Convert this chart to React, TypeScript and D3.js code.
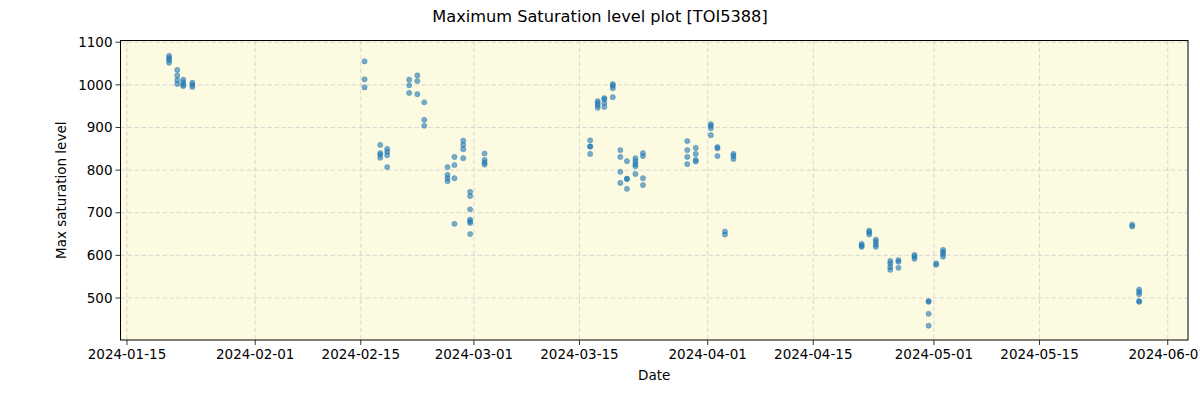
import React from "react";
import * as d3 from "d3";

// Observation nights (UTC) and the saturation levels measured on each night
const nightTimes: string[] = [
  "2024-01-20T14:00Z", "2024-01-21T16:00Z", "2024-01-22T11:00Z", "2024-01-23T16:00Z",
  "2024-02-15T12:00Z", "2024-02-17T14:00Z", "2024-02-18T12:00Z", "2024-02-21T10:00Z",
  "2024-02-22T12:00Z", "2024-02-23T10:00Z", "2024-02-26T12:00Z", "2024-02-27T10:00Z",
  "2024-02-28T14:00Z", "2024-02-29T12:00Z", "2024-03-02T10:00Z", "2024-03-16T10:00Z",
  "2024-03-17T10:00Z", "2024-03-18T07:00Z", "2024-03-19T10:00Z", "2024-03-20T10:00Z",
  "2024-03-21T07:00Z", "2024-03-22T10:00Z", "2024-03-23T10:00Z", "2024-03-29T07:00Z",
  "2024-03-30T10:00Z", "2024-04-01T10:00Z", "2024-04-02T07:00Z", "2024-04-03T07:00Z",
  "2024-04-04T10:00Z", "2024-04-21T10:00Z", "2024-04-22T10:00Z", "2024-04-23T07:00Z",
  "2024-04-25T05:00Z", "2024-04-26T07:00Z", "2024-04-28T10:00Z", "2024-04-30T07:00Z",
  "2024-05-01T07:00Z", "2024-05-02T05:00Z", "2024-05-27T07:00Z", "2024-05-28T05:00Z",
];

const saturationLevels: number[][] = [
  [1068, 1063, 1058, 1052], [1035, 1022, 1011, 1002], [1012, 1006, 1000, 997], [1005, 1000, 995],
  [1055, 1013, 994], [859, 840, 836, 829], [850, 843, 835, 807], [1012, 999, 981],
  [1022, 1009, 978], [959, 918, 904], [807, 789, 781, 774], [831, 812, 781, 674],
  [869, 859, 849, 828], [749, 739, 708, 684, 680, 676, 650], [839, 824, 818, 813], [870, 856, 855, 838],
  [962, 957, 952, 946], [969, 966, 957, 948], [1002, 998, 992, 971], [847, 831, 796, 770],
  [821, 780, 779, 756], [828, 821, 814, 809, 791], [840, 833, 781, 765], [868, 847, 831, 814],
  [852, 838, 824, 820], [908, 904, 898, 882], [854, 851, 833], [656, 649],
  [838, 833, 826], [627, 623, 620], [658, 654, 649], [637, 632, 625, 620],
  [587, 581, 573, 566], [589, 585, 571], [601, 597, 592], [493, 491, 463, 435],
  [581, 578], [613, 608, 603, 597], [672, 668], [520, 514, 509, 493, 491],
];

const xTickLabels: string[] = [
  "2024-01-15", "2024-02-01", "2024-02-15", "2024-03-01", "2024-03-15",
  "2024-04-01", "2024-04-15", "2024-05-01", "2024-05-15", "2024-06-01",
];
const yTickValues: number[] = [500, 600, 700, 800, 900, 1000, 1100];

const W = 1200;
const H = 400;
const left = 120.5;
const right = 1188;
const top = 40.5;
const bottom = 340;
const FONT = "DejaVu Sans, sans-serif";

export default function App() {
  const x = d3
    .scaleUtc()
    .domain([new Date("2024-01-14T03:20Z"), new Date("2024-06-03T16:30Z")])
    .range([left, right]);
  const y = d3.scaleLinear().domain([401.5, 1104]).range([bottom, top]);

  const points: { t: Date; v: number }[] = [];
  nightTimes.forEach((s, i) => {
    const t = new Date(s);
    saturationLevels[i].forEach((v) => points.push({ t, v }));
  });

  const xTicks = xTickLabels.map((s) => ({ s, d: new Date(s + "T00:00Z") }));

  return (
    <svg
      width={W}
      height={H}
      style={{ position: "absolute", left: 0, top: 0, background: "#fff" }}
      fontFamily={FONT}
    >
      <rect x={0} y={0} width={W} height={H} fill="#ffffff" />
      <rect x={left} y={top} width={right - left} height={bottom - top} fill="#fcfae1" />
      {/* grid */}
      {xTicks.map(({ s, d }) => (
        <line
          key={"gx" + s}
          x1={x(d)}
          x2={x(d)}
          y1={top}
          y2={bottom}
          stroke="#cfcfcf"
          strokeWidth={0.8}
          strokeDasharray="4.5,2.5"
        />
      ))}
      {yTickValues.map((v) => (
        <line
          key={"gy" + v}
          x1={left}
          x2={right}
          y1={y(v)}
          y2={y(v)}
          stroke="#cfcfcf"
          strokeWidth={0.8}
          strokeDasharray="4.5,2.5"
        />
      ))}
      {/* points */}
      {points.map((p, i) => (
        <circle
          key={i}
          cx={x(p.t)}
          cy={y(p.v)}
          r={2.6}
          fill="#1f77b4"
          fillOpacity={0.6}
          stroke="#1f77b4"
          strokeOpacity={0.6}
          strokeWidth={0.6}
        />
      ))}
      {/* frame */}
      <rect
        x={left}
        y={top}
        width={right - left}
        height={bottom - top}
        fill="none"
        stroke="#000"
        strokeWidth={1}
      />
      {/* x ticks */}
      {xTicks.map(({ s, d }) => (
        <g key={"tx" + s} transform={`translate(${x(d)},${bottom})`}>
          <line y1={0} y2={5} stroke="#000" strokeWidth={0.8} />
          <text y={19} textAnchor="middle" fontSize={13.5} fill="#000">
            {s}
          </text>
        </g>
      ))}
      {/* y ticks */}
      {yTickValues.map((v) => (
        <g key={"ty" + v} transform={`translate(${left},${y(v)})`}>
          <line x1={0} x2={-5} stroke="#000" strokeWidth={0.8} />
          <text x={-8} dy="0.35em" textAnchor="end" fontSize={13.5} fill="#000">
            {v}
          </text>
        </g>
      ))}
      <text x={(left + right) / 2} y={380} textAnchor="middle" fontSize={13.5} fill="#000">
        Date
      </text>
      <text
        transform={`translate(66,${(top + bottom) / 2}) rotate(-90)`}
        textAnchor="middle"
        fontSize={13.5}
        fill="#000"
      >
        Max saturation level
      </text>
      <text x={600} y={22} textAnchor="middle" fontSize={16.2} fill="#000">
        Maximum Saturation level plot [TOI5388]
      </text>
    </svg>
  );
}
